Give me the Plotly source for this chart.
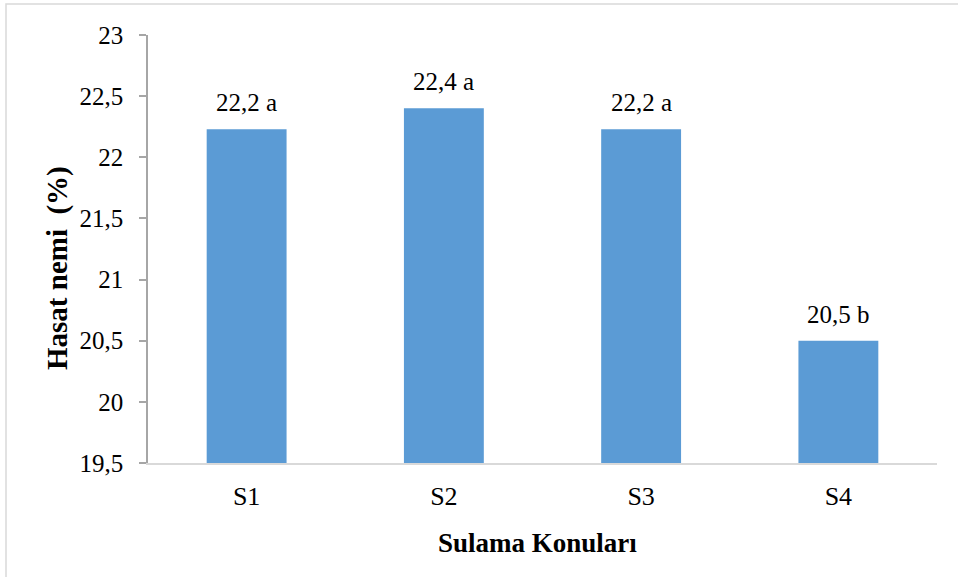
import plotly.graph_objects as go

categories = ["S1", "S2", "S3", "S4"]
values = [22.23, 22.4, 22.23, 20.5]
labels = ["22,2 a", "22,4 a", "22,2 a", "20,5 b"]
y_ticks = [19.5, 20, 20.5, 21, 21.5, 22, 22.5, 23]
x_title = "Sulama Konuları"
y_title = "Hasat nemi  (%)"

FONT = "Liberation Serif"

fig = go.Figure(go.Bar(
    x=categories, y=values,
    marker_color="#5B9BD5", marker_line_width=0,
))

for c, v, t in zip(categories, values, labels):
    fig.add_annotation(x=c, y=v, text=t, showarrow=False, yanchor="bottom",
                       yshift=11, font=dict(family=FONT, size=25, color="#000000"))

L, R, T, B = 148, 21, 35, 114
W, H = 958, 577
pw, ph = W - L - R, H - T - B

def px_x(p):
    return (p - L) / pw

def px_y(p):
    return 1 - (p - T) / ph

fig.add_annotation(xref="paper", yref="paper", x=px_x(537), y=px_y(543),
                   text="<b>" + x_title + "</b>", showarrow=False,
                   xanchor="center", yanchor="middle",
                   font=dict(family=FONT, size=27, color="#000000"))
fig.add_annotation(xref="paper", yref="paper", x=px_x(57), y=px_y(268),
                   text="<b>" + y_title + "</b>", showarrow=False, textangle=-90,
                   xanchor="center", yanchor="middle",
                   font=dict(family=FONT, size=29, color="#000000"))

fig.update_layout(
    width=W, height=H,
    margin=dict(l=L, r=R, t=T, b=B),
    paper_bgcolor="white", plot_bgcolor="white",
    separators=",.",
    bargap=0.595,
    showlegend=False,
    font=dict(family=FONT, size=25, color="#000000"),
    xaxis=dict(
        showline=True, linecolor="#D9D9D9", linewidth=1.5,
        ticks="", showgrid=False, ticklabelstandoff=9,
        tickfont=dict(family=FONT, size=26),
    ),
    yaxis=dict(
        range=[19.5, 23], tickvals=y_ticks,
        showline=True, linecolor="#A6A6A6", linewidth=1.5,
        ticks="outside", ticklen=7, tickcolor="#A6A6A6", tickwidth=1.5,
        showgrid=False, zeroline=False, ticklabelstandoff=11,
        tickfont=dict(family=FONT, size=25),
    ),
    shapes=[dict(
        type="rect", xref="paper", yref="paper",
        x0=px_x(6), x1=px_x(W + 20),
        y0=px_y(H + 20), y1=px_y(4),
        line=dict(color="#D9D9D9", width=1.5), fillcolor="rgba(0,0,0,0)",
        layer="below",
    )],
)

fig.write_html("out.html")
